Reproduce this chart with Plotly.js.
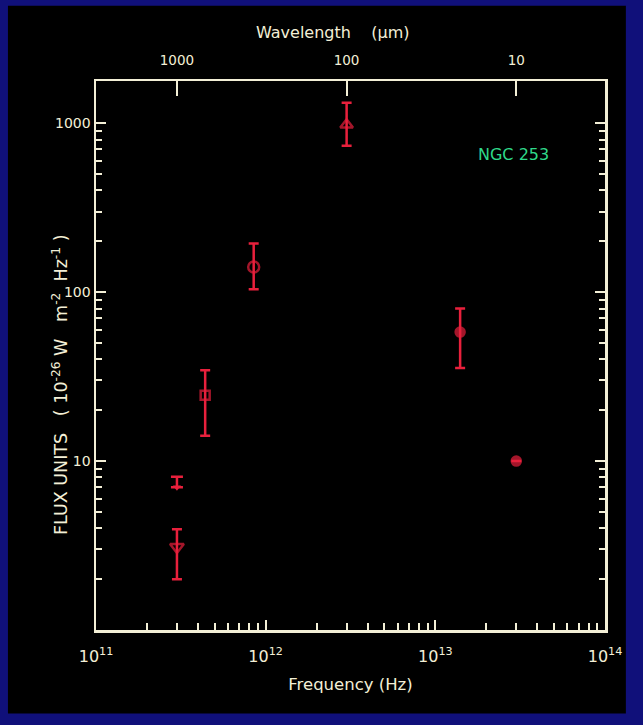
<!DOCTYPE html>
<html>
<head>
<meta charset="utf-8">
<script src="https://cdn.plot.ly/plotly-3.0.1.min.js"></script>
<style>
html,body{margin:0;padding:0;background:#10107a;}
#chart{width:643px;height:725px;}
</style>
</head>
<body>
<div id="chart"></div>
<script>
// ---- data ----
const freqHz   = [3.0e11, 4.4e11, 8.5e11, 3.0e12, 1.4e13, 3.0e13];
const fluxJy   = [3.1,    24.5,   141,    980,    58,     10];
const errPlus  = [0.85,   10,     53,     340,    22,     0];
const errMinus = [1.1,    10.4,   37,     245,    22.4,   0];
const symbols  = ['triangle-down-open','square-open','circle-open','triangle-up-open','circle','circle'];
const markerSizes = [12, 9, 11, 11, 9, 9];

// upper limit point
const limitFreqHz = [3.0e11];
const limitFlux   = [7.0];
const limitUp     = [1.07];

// axis tick labels
const xTickVals   = [1e11, 1e12, 1e13, 1e14];
const xTickText   = ['10<sup>11</sup>','10<sup>12</sup>','10<sup>13</sup>','10<sup>14</sup>'];
const yTickVals   = [10, 100, 1000];
const yTickText   = ['10','100','1000'];
const wavelengthUm = [1000, 100, 10];
const wavelengthText = ['1000','100','10'];

const C_UM_HZ = 2.998e14;
const red = '#e8203c';
const cream = '#f3efd6';

function minorLog(lo, hi){
  const v=[];
  for(let e=lo;e<hi;e++){ for(let m=2;m<=9;m++) v.push(m*Math.pow(10,e)); }
  return v;
}

const traces = [
  {
    x: freqHz, y: fluxJy, type:'scatter', mode:'markers',
    marker:{symbol:symbols, size:markerSizes, color:red, line:{color:red, width:2.5}},
    error_y:{type:'data', symmetric:false, array:errPlus, arrayminus:errMinus,
             color:red, thickness:2.5, width:5},
    showlegend:false, hoverinfo:'x+y'
  },
  {
    x: limitFreqHz, y: limitFlux, type:'scatter', mode:'markers',
    marker:{symbol:'triangle-down', size:7, color:red},
    error_y:{type:'data', symmetric:false, array:limitUp, arrayminus:[0],
             color:red, thickness:2.5, width:6},
    showlegend:false
  },
  { x: [], y: [], xaxis:'x2', type:'scatter', mode:'markers', showlegend:false, hoverinfo:'skip' }
];

const fontFam = '"DejaVu Sans", "Liberation Sans", Arial, sans-serif';

const layout = {
  width:643, height:725,
  margin:{l:96, r:38, t:81, b:95},
  paper_bgcolor:'#10107a',
  plot_bgcolor:'#000000',
  font:{family:fontFam, color:cream},
  showlegend:false,
  xaxis:{
    type:'log', range:[11,14],
    tickmode:'array', tickvals:xTickVals, ticktext:xTickText,
    ticks:'inside', ticklen:10, tickwidth:2, tickcolor:cream,
    minor:{tickmode:'array', tickvals:minorLog(11,14), ticks:'inside', ticklen:7, tickwidth:2, tickcolor:cream},
    showline:true, linecolor:cream, linewidth:2.5, mirror:true,
    showgrid:false, zeroline:false,
    ticklabelstandoff:10,
    tickfont:{size:16, color:cream},
    title:{text:'Frequency (Hz)', font:{size:16.5, color:cream}, standoff:14}
  },
  xaxis2:{
    type:'log', range:[11,14], overlaying:'x', side:'top', anchor:'y',
    tickmode:'array', tickvals:wavelengthUm.map(l=>C_UM_HZ/l), ticktext:wavelengthText,
    ticks:'inside', ticklen:15, tickwidth:2, tickcolor:cream,
    showline:false, showgrid:false, zeroline:false,
    ticklabelstandoff:12,
    tickfont:{size:13.5, color:cream}
  },
  yaxis:{
    type:'log', range:[0,3.25],
    tickmode:'array', tickvals:yTickVals, ticktext:yTickText,
    ticks:'inside', ticklen:10, tickwidth:2, tickcolor:cream,
    minor:{tickmode:'array', tickvals:minorLog(0,4), ticks:'inside', ticklen:6, tickwidth:2, tickcolor:cream},
    showline:true, linecolor:cream, linewidth:2.5, mirror:'ticks',
    showgrid:false, zeroline:false,
    tickfont:{size:14, color:cream}
  },
  shapes:[
    {type:'rect', xref:'paper', yref:'paper', layer:'below',
     x0:-0.173, x1:1.041, y0:-0.152, y1:1.137,
     fillcolor:'#000000', line:{width:0}}
  ],
  annotations:[
    {text:'Wavelength&nbsp;&nbsp;&nbsp;&nbsp;(μm)', xref:'paper', yref:'paper',
     x:(333-96)/509, y:(630-33)/549, xanchor:'center', yanchor:'middle', showarrow:false,
     font:{size:16, color:cream}},
    {text:'FLUX&nbsp;UNITS&nbsp;&nbsp;&nbsp;(&nbsp;10<sup>-26</sup>&nbsp;W&nbsp;&nbsp;&nbsp;m<sup>-2</sup>&nbsp;&nbsp;Hz<sup>-1</sup>&nbsp;)', xref:'paper', yref:'paper',
     x:(60-96)/509, y:(630-385)/549, xanchor:'center', yanchor:'middle', textangle:-90, showarrow:false,
     font:{size:17.5, color:cream}},
    {text:'NGC 253', xref:'paper', yref:'paper',
     x:(513-96)/509, y:(630-154)/549, xanchor:'center', yanchor:'middle', showarrow:false,
     font:{size:16, color:'#2fd98a'}}
  ]
};

Plotly.newPlot('chart', traces, layout, {displayModeBar:false, staticPlot:true});
</script>
</body>
</html>
